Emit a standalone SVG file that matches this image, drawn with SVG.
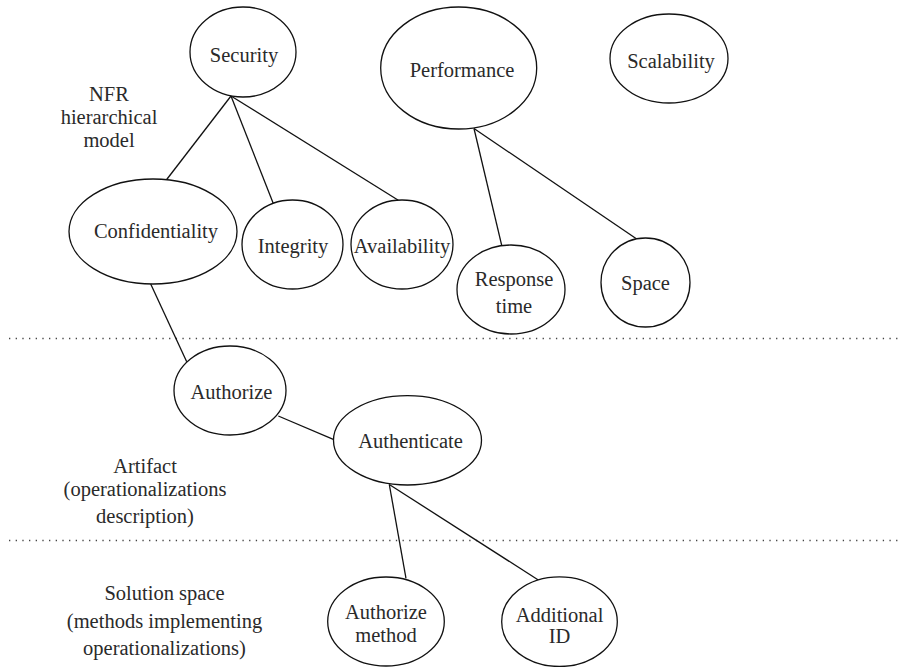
<svg xmlns="http://www.w3.org/2000/svg" width="900" height="667" viewBox="0 0 900 667">
<style>
.n{fill:#fff;stroke:#111;stroke-width:1.3}
.c{stroke:#111;stroke-width:1.3;fill:none}
.d{stroke:#444;stroke-width:1.3;stroke-dasharray:1.3 5.37;fill:none}
text{font-family:"Liberation Serif","Times New Roman",serif;font-size:20.5px;fill:#2a2a2a;text-anchor:middle}
</style>
<rect width="900" height="667" fill="#fff"/>
<g id="separators">
<line class="d" x1="9" y1="338.5" x2="900" y2="338.5"/>
<line class="d" x1="9" y1="540.5" x2="900" y2="540.5"/>
</g>
<g id="connectors">
<line class="c" x1="231" y1="96" x2="166.7" y2="179.5"/>
<line class="c" x1="231" y1="96" x2="273.3" y2="203.5"/>
<line class="c" x1="231" y1="96" x2="398.3" y2="200.3"/>
<line class="c" x1="474" y1="128.5" x2="501.7" y2="245.3"/>
<line class="c" x1="474" y1="128.5" x2="636" y2="238.5"/>
<line class="c" x1="150.7" y1="284" x2="186.7" y2="361.7"/>
<line class="c" x1="278.3" y1="416" x2="333.3" y2="439.3"/>
<line class="c" x1="389.3" y1="484.5" x2="406" y2="578.3"/>
<line class="c" x1="389.3" y1="484.5" x2="538.3" y2="580"/>
</g>
<g id="labels">
<text x="109" y="101">NFR</text>
<text x="109" y="124">hierarchical</text>
<text x="109" y="147">model</text>
<text x="145" y="472.7">Artifact</text>
<text x="145" y="496">(operationalizations</text>
<text x="145" y="523.3">description)</text>
<text x="164.5" y="600">Solution space</text>
<text x="164.5" y="627.7">(methods implementing</text>
<text x="164.5" y="655">operationalizations)</text>
</g>
<g id="security"><ellipse class="n" cx="243" cy="52" rx="53" ry="45"/><text x="244" y="61.7">Security</text></g>
<g id="performance"><ellipse class="n" cx="458.7" cy="68" rx="78" ry="61"/><text x="462" y="77">Performance</text></g>
<g id="scalability"><ellipse class="n" cx="669" cy="58.5" rx="59" ry="44.5"/><text x="671" y="68">Scalability</text></g>
<g id="confidentiality"><ellipse class="n" cx="153" cy="231.5" rx="84" ry="52.5"/><text x="156" y="238">Confidentiality</text></g>
<g id="integrity"><ellipse class="n" cx="292.5" cy="244.5" rx="50.5" ry="44.5"/><text x="293" y="252.7">Integrity</text></g>
<g id="availability"><ellipse class="n" cx="402" cy="244.5" rx="51" ry="44.5"/><text x="402" y="252.7">Availability</text></g>
<g id="response-time"><ellipse class="n" cx="511" cy="289.5" rx="54" ry="44.5"/><text x="514" y="286">Response</text><text x="514" y="313.3">time</text></g>
<g id="space"><ellipse class="n" cx="645.5" cy="282.5" rx="44.5" ry="44.5"/><text x="645.5" y="290">Space</text></g>
<g id="authorize"><ellipse class="n" cx="230" cy="390.5" rx="56" ry="44.5"/><text x="231.5" y="399">Authorize</text></g>
<g id="authenticate"><ellipse class="n" cx="407.5" cy="440.3" rx="74" ry="44.7"/><text x="410.5" y="448.3">Authenticate</text></g>
<g id="authorize-method"><ellipse class="n" cx="386" cy="621.5" rx="58.3" ry="44.5"/><text x="386" y="618.5">Authorize</text><text x="386" y="641.7">method</text></g>
<g id="additional-id"><ellipse class="n" cx="559.5" cy="621.7" rx="57.8" ry="44.8"/><text x="559.5" y="621.7">Additional</text><text x="559.5" y="643.3">ID</text></g>
</svg>
